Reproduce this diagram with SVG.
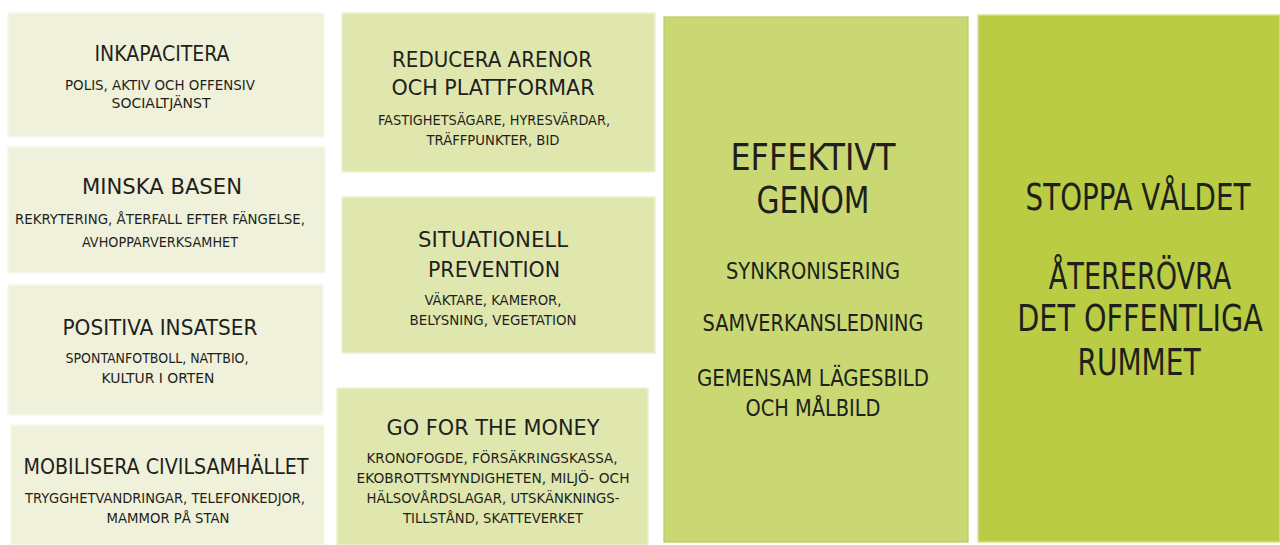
<svg xmlns="http://www.w3.org/2000/svg" width="1280" height="545" viewBox="0 0 1280 545">
<style>
text{font-family:"DejaVu Sans Condensed","DejaVu Sans",sans-serif;fill:#1f1f1c;text-anchor:middle;font-stretch:condensed}
.h{font-size:21px}
.s{font-size:14px}
.b{font-size:37px}
.m{font-size:23px}
.c1{fill:#eff1da;stroke:#f7f8ec;stroke-width:1.5}
.c2{fill:#dfe7af;stroke:#eef2d2;stroke-width:1.5}
.c3{fill:#c9d873;stroke:#b9c95c;stroke-width:1.2}
.c4{fill:#b9cc44;stroke:#d7e290;stroke-width:1.5}
</style>
<rect width="1280" height="545" fill="#ffffff"/>
<g id="inkapacitera">
<rect class="c1" x="8" y="13" width="316" height="124"/>
<text class="h" x="162" y="61" textLength="135" lengthAdjust="spacingAndGlyphs">INKAPACITERA</text>
<text class="s" x="160" y="90" textLength="190" lengthAdjust="spacingAndGlyphs">POLIS, AKTIV OCH OFFENSIV</text>
<text class="s" x="161" y="108" textLength="99" lengthAdjust="spacingAndGlyphs">SOCIALTJÄNST</text>
</g>
<g id="minska-basen">
<rect class="c1" x="8" y="147" width="317" height="126"/>
<text class="h" x="162" y="194" textLength="160" lengthAdjust="spacingAndGlyphs">MINSKA BASEN</text>
<text class="s" x="160" y="224" textLength="290" lengthAdjust="spacingAndGlyphs">REKRYTERING, ÅTERFALL EFTER FÄNGELSE,</text>
<text class="s" x="160" y="247" textLength="156" lengthAdjust="spacingAndGlyphs">AVHOPPARVERKSAMHET</text>
</g>
<g id="positiva-insatser">
<rect class="c1" x="8" y="285" width="315" height="130"/>
<text class="h" x="160" y="335" textLength="195" lengthAdjust="spacingAndGlyphs">POSITIVA INSATSER</text>
<text class="s" x="157" y="363" textLength="183" lengthAdjust="spacingAndGlyphs">SPONTANFOTBOLL, NATTBIO,</text>
<text class="s" x="158" y="383" textLength="113" lengthAdjust="spacingAndGlyphs">KULTUR I ORTEN</text>
</g>
<g id="mobilisera">
<rect class="c1" x="11" y="425" width="313" height="120"/>
<text class="h" x="166" y="474" textLength="285" lengthAdjust="spacingAndGlyphs">MOBILISERA CIVILSAMHÄLLET</text>
<text class="s" x="165" y="503" textLength="280" lengthAdjust="spacingAndGlyphs">TRYGGHETVANDRINGAR, TELEFONKEDJOR,</text>
<text class="s" x="168" y="523" textLength="123" lengthAdjust="spacingAndGlyphs">MAMMOR PÅ STAN</text>
</g>
<g id="reducera-arenor">
<rect class="c2" x="342" y="13" width="313" height="159"/>
<text class="h" x="492" y="67" textLength="200" lengthAdjust="spacingAndGlyphs">REDUCERA ARENOR</text>
<text class="h" x="493" y="95" textLength="203" lengthAdjust="spacingAndGlyphs">OCH PLATTFORMAR</text>
<text class="s" x="494" y="125" textLength="232" lengthAdjust="spacingAndGlyphs">FASTIGHETSÄGARE, HYRESVÄRDAR,</text>
<text class="s" x="493" y="145" textLength="133" lengthAdjust="spacingAndGlyphs">TRÄFFPUNKTER, BID</text>
</g>
<g id="situationell-prevention">
<rect class="c2" x="342" y="197" width="313" height="156"/>
<text class="h" x="493" y="247" textLength="150" lengthAdjust="spacingAndGlyphs">SITUATIONELL</text>
<text class="h" x="494" y="277" textLength="132" lengthAdjust="spacingAndGlyphs">PREVENTION</text>
<text class="s" x="493" y="305" textLength="137" lengthAdjust="spacingAndGlyphs">VÄKTARE, KAMEROR,</text>
<text class="s" x="493" y="325" textLength="167" lengthAdjust="spacingAndGlyphs">BELYSNING, VEGETATION</text>
</g>
<g id="go-for-the-money">
<rect class="c2" x="337" y="388" width="311" height="157"/>
<text class="h" x="493" y="435" textLength="213" lengthAdjust="spacingAndGlyphs">GO FOR THE MONEY</text>
<text class="s" x="492" y="463" textLength="251" lengthAdjust="spacingAndGlyphs">KRONOFOGDE, FÖRSÄKRINGSKASSA,</text>
<text class="s" x="493" y="483" textLength="273" lengthAdjust="spacingAndGlyphs">EKOBROTTSMYNDIGHETEN, MILJÖ- OCH</text>
<text class="s" x="493" y="503" textLength="253" lengthAdjust="spacingAndGlyphs">HÄLSOVÅRDSLAGAR, UTSKÄNKNINGS-</text>
<text class="s" x="493" y="523" textLength="180" lengthAdjust="spacingAndGlyphs">TILLSTÅND, SKATTEVERKET</text>
</g>
<g id="effektivt-genom">
<rect class="c3" x="664" y="17" width="304" height="525"/>
<text class="b" x="813" y="170" textLength="165" lengthAdjust="spacingAndGlyphs">EFFEKTIVT</text>
<text class="b" x="813" y="213" textLength="113" lengthAdjust="spacingAndGlyphs">GENOM</text>
<text class="m" x="813" y="279" textLength="174" lengthAdjust="spacingAndGlyphs">SYNKRONISERING</text>
<text class="m" x="813" y="331" textLength="221" lengthAdjust="spacingAndGlyphs">SAMVERKANSLEDNING</text>
<text class="m" x="813" y="386" textLength="232" lengthAdjust="spacingAndGlyphs">GEMENSAM LÄGESBILD</text>
<text class="m" x="813" y="416" textLength="135" lengthAdjust="spacingAndGlyphs">OCH MÅLBILD</text>
</g>
<g id="stoppa-valdet">
<rect class="c4" x="978" y="15" width="302" height="527"/>
<text class="b" transform="translate(1138 210) scale(0.8 1)" x="0" y="0" textLength="281" lengthAdjust="spacingAndGlyphs">STOPPA VÅLDET</text>
<text class="b" transform="translate(1140 289) scale(0.8 1)" x="0" y="0" textLength="228" lengthAdjust="spacingAndGlyphs">ÅTERERÖVRA</text>
<text class="b" transform="translate(1140 331) scale(0.8 1)" x="0" y="0" textLength="307" lengthAdjust="spacingAndGlyphs">DET OFFENTLIGA</text>
<text class="b" transform="translate(1139 375) scale(0.8 1)" x="0" y="0" textLength="154" lengthAdjust="spacingAndGlyphs">RUMMET</text>
</g>
</svg>
